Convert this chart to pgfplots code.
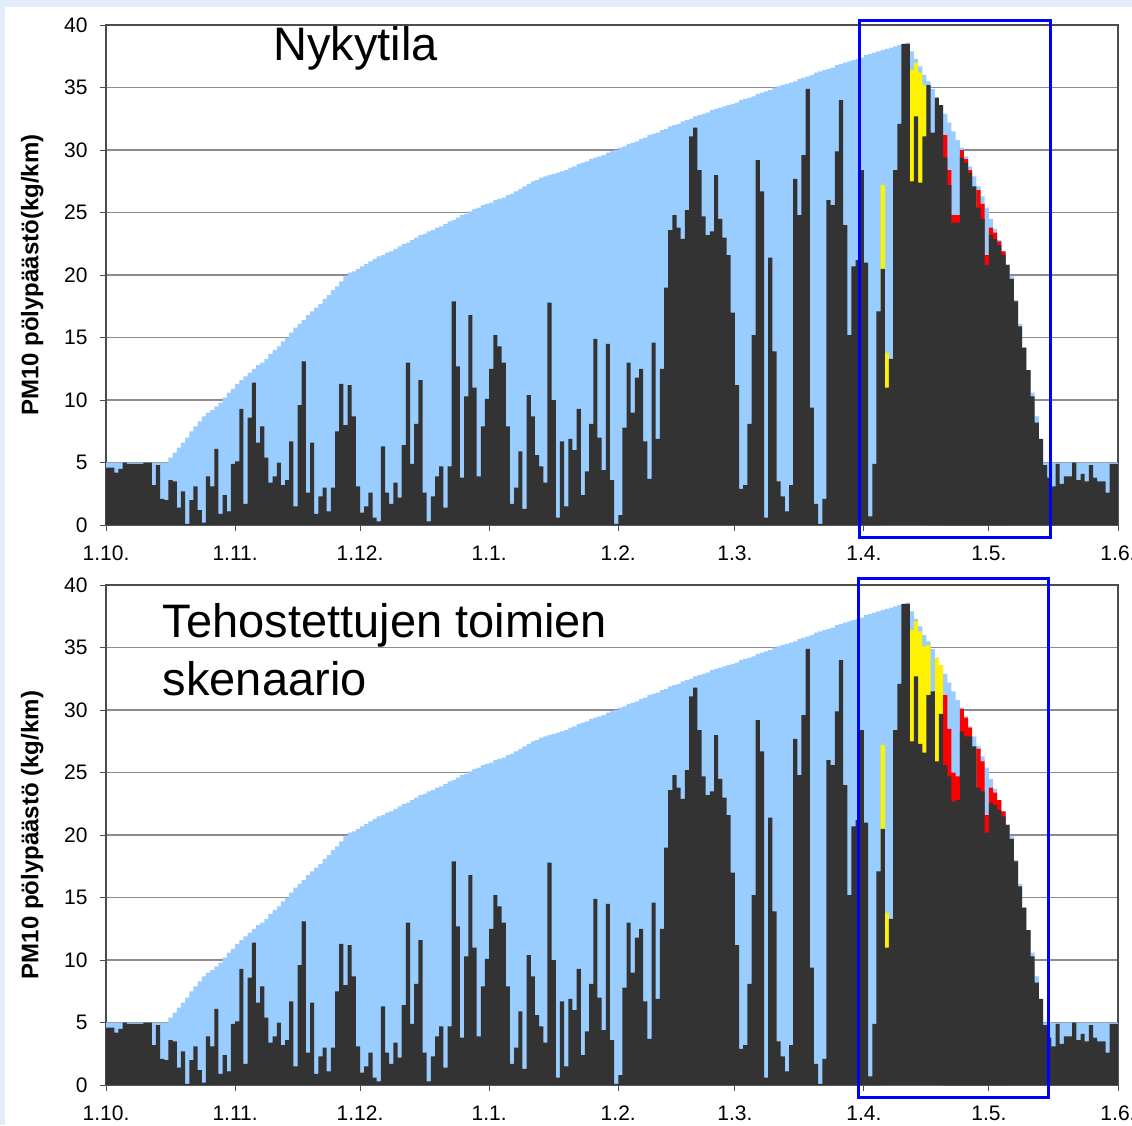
\documentclass[border=0pt]{standalone}
\usepackage{pgfplots}
\pgfplotsset{compat=1.18}
\usepackage{pgfplotstable}
\usepackage{fontspec}
\setmainfont{Liberation Sans}
\definecolor{envblue}{RGB}{153,204,255}
\definecolor{actual}{RGB}{51,51,51}
\definecolor{frameblue}{RGB}{0,0,255}
\definecolor{pagebg}{RGB}{226,237,249}

% day index (0 = 1.10.), potential emission, actual (top panel), actual (bottom panel)
\pgfplotstableread{
d env top bot
0 5.0 4.6 4.6
1 5.0 4.6 4.6
2 5.0 4.2 4.2
3 5.0 4.5 4.5
4 5.0 5.0 5.0
5 5.0 4.9 4.9
6 5.0 4.9 4.9
7 5.0 4.9 4.9
8 5.0 4.9 4.9
9 5.0 5.0 5.0
10 5.0 5.0 5.0
11 5.0 3.2 3.2
12 5.0 4.8 4.8
13 5.0 2.1 2.1
14 5.0 2.0 2.0
15 5.4 3.6 3.6
16 5.8 3.5 3.5
17 6.2 1.4 1.4
18 6.6 2.7 2.7
19 7.0 0.1 0.1
20 7.5 2.0 2.0
21 7.9 3.1 3.1
22 8.3 1.2 1.2
23 8.7 0.2 0.2
24 9.0 3.9 3.9
25 9.2 3.1 3.1
26 9.5 6.1 6.1
27 9.8 0.9 0.9
28 10.2 2.4 2.4
29 10.6 1.1 1.1
30 10.9 4.9 4.9
31 11.3 5.1 5.1
32 11.6 9.3 9.3
33 11.9 1.7 1.7
34 12.2 8.6 8.6
35 12.5 11.4 11.4
36 12.8 6.6 6.6
37 13.0 7.9 7.9
38 13.3 5.4 5.4
39 13.7 3.4 3.4
40 14.0 3.9 3.9
41 14.3 5.0 5.0
42 14.7 3.2 3.2
43 15.0 3.6 3.6
44 15.4 6.7 6.7
45 15.8 1.5 1.5
46 16.1 9.6 9.6
47 16.4 13.1 13.1
48 16.8 2.6 2.6
49 17.1 6.6 6.6
50 17.4 0.9 0.9
51 17.7 2.3 2.3
52 18.1 3.0 3.0
53 18.4 1.1 1.1
54 18.8 3.0 3.0
55 19.1 7.5 7.5
56 19.5 11.3 11.3
57 19.9 8.0 8.0
58 20.2 11.2 11.2
59 20.3 8.7 8.7
60 20.5 3.1 3.1
61 20.7 1.0 1.0
62 20.9 1.5 1.5
63 21.1 2.6 2.6
64 21.3 0.6 0.6
65 21.5 0.3 0.3
66 21.6 6.3 6.3
67 21.8 2.6 2.6
68 21.9 1.7 1.7
69 22.1 3.4 3.4
70 22.3 2.2 2.2
71 22.5 6.4 6.4
72 22.6 13.0 13.0
73 22.8 4.9 4.9
74 23.0 8.1 8.1
75 23.2 11.6 11.6
76 23.3 2.6 2.6
77 23.5 0.3 0.3
78 23.6 2.3 2.3
79 23.8 3.9 3.9
80 23.9 4.7 4.7
81 24.1 1.4 1.4
82 24.3 4.7 4.7
83 24.4 17.9 17.9
84 24.6 12.7 12.7
85 24.8 3.8 3.8
86 24.9 10.3 10.3
87 25.1 16.8 16.8
88 25.3 11.0 11.0
89 25.4 3.9 3.9
90 25.6 7.9 7.9
91 25.7 10.1 10.1
92 25.8 12.5 12.5
93 26.0 15.2 15.2
94 26.1 14.3 14.3
95 26.2 13.0 13.0
96 26.4 7.9 7.9
97 26.5 1.7 1.7
98 26.7 3.0 3.0
99 26.9 5.9 5.9
100 27.1 1.3 1.3
101 27.3 10.4 10.4
102 27.5 8.7 8.7
103 27.6 5.6 5.6
104 27.8 4.7 4.7
105 27.9 3.4 3.4
106 28.0 17.8 17.8
107 28.1 10.0 10.0
108 28.2 0.6 0.6
109 28.3 6.7 6.7
110 28.4 1.5 1.5
111 28.6 6.9 6.9
112 28.7 6.0 6.0
113 28.9 9.3 9.3
114 29.0 2.4 2.4
115 29.1 4.3 4.3
116 29.3 8.1 8.1
117 29.4 14.9 14.9
118 29.5 7.0 7.0
119 29.6 4.4 4.4
120 29.8 14.5 14.5
121 29.9 3.6 3.6
122 30.0 0.1 0.1
123 30.2 0.8 0.8
124 30.3 7.8 7.8
125 30.5 13.0 13.0
126 30.6 9.0 9.0
127 30.7 11.8 11.8
128 30.9 12.5 12.5
129 31.0 6.7 6.7
130 31.2 3.7 3.7
131 31.3 14.6 14.6
132 31.4 6.9 6.9
133 31.6 12.5 12.5
134 31.7 19.0 19.0
135 31.9 23.6 23.6
136 32.0 24.8 24.8
137 32.1 23.8 23.8
138 32.3 22.9 22.9
139 32.4 25.2 25.2
140 32.5 31.1 31.1
141 32.7 31.8 31.8
142 32.8 28.4 28.4
143 32.9 24.7 24.7
144 33.0 23.2 23.2
145 33.2 23.5 23.5
146 33.3 28.0 28.0
147 33.4 24.5 24.5
148 33.5 23.0 23.0
149 33.6 21.6 21.6
150 33.7 17.0 17.0
151 33.8 11.2 11.2
152 34.0 2.9 2.9
153 34.1 3.2 3.2
154 34.2 8.1 8.1
155 34.3 15.2 15.2
156 34.5 29.2 29.2
157 34.6 26.7 26.7
158 34.7 0.6 0.6
159 34.8 21.4 21.4
160 35.0 13.9 13.9
161 35.1 3.5 3.5
162 35.2 2.3 2.3
163 35.3 1.1 1.1
164 35.4 3.2 3.2
165 35.5 27.7 27.7
166 35.7 24.8 24.8
167 35.8 29.6 29.6
168 35.9 34.9 34.9
169 36.0 9.4 9.4
170 36.2 1.7 1.7
171 36.3 0.1 0.1
172 36.4 2.1 2.1
173 36.5 26.0 26.0
174 36.6 25.6 25.6
175 36.8 29.9 29.9
176 36.9 34.0 34.0
177 37.0 24.0 24.0
178 37.1 15.2 15.2
179 37.2 20.7 20.7
180 37.3 21.2 21.2
181 37.4 28.4 28.4
182 37.6 21.0 21.0
183 37.7 0.7 0.7
184 37.8 4.9 4.9
185 37.9 17.1 17.1
186 38.0 20.5 20.5
187 38.1 11.0 11.0
188 38.2 13.3 13.3
189 38.3 28.4 28.4
190 38.4 32.1 32.1
191 38.5 38.5 38.5
192 38.6 38.5 38.5
193 37.9 27.5 27.5
194 37.3 32.7 32.7
195 36.7 27.4 27.3
196 36.0 31.1 26.6
197 35.5 35.2 31.2
198 34.9 31.4 31.5
199 34.2 34.2 25.9
200 33.6 33.6 29.7
201 32.9 29.4 25.6
202 32.2 27.2 24.7
203 31.5 24.2 22.7
204 30.8 24.2 22.8
205 30.2 29.4 28.3
206 29.5 29.0 27.9
207 28.7 28.2 27.9
208 27.9 27.1 27.1
209 27.1 25.4 23.8
210 26.3 24.5 23.5
211 25.4 20.8 20.2
212 24.5 23.2 22.6
213 23.7 22.9 22.4
214 22.8 22.4 22.0
215 21.9 21.6 21.5
216 20.9 20.8 20.8
217 19.9 19.7 19.7
218 18.0 17.9 17.9
219 16.1 15.9 15.9
220 14.2 14.2 14.2
221 12.4 12.4 12.4
222 10.6 10.3 10.3
223 8.7 8.2 8.2
224 6.9 6.9 6.9
225 5.0 4.8 4.8
226 5.0 3.8 3.8
227 5.0 3.1 3.1
228 5.0 4.9 4.9
229 5.0 3.3 3.3
230 5.0 3.9 3.9
231 5.0 3.9 3.9
232 5.0 5.0 5.0
233 5.0 3.6 3.6
234 5.0 4.1 4.1
235 5.0 3.5 3.5
236 5.0 4.8 4.8
237 5.0 3.8 3.8
238 5.0 3.5 3.5
239 5.0 3.5 3.5
240 5.0 2.6 2.6
241 5.0 4.9 4.9
242 5.0 4.9 4.9
243 5.0 4.9 4.9
}\days

\pgfplotsset{
  panel/.style={
    scale only axis, width=1012pt, height=500pt,
    xmin=0, xmax=243, ymin=0, ymax=40,
    ytick={0,5,...,40},
    xtick={0,31,61,92,123,151,182,212,243},
    xticklabels={1.10.,1.11.,1.12.,1.1.,1.2.,1.3.,1.4.,1.5.,1.6.},
    xtick pos=bottom, ytick pos=left,
    tick align=outside, major tick length=6pt,
    tick style={black!70, line width=1pt},
    ymajorgrids, grid style={black!45, line width=1.6pt},
    axis line style={black!70, line width=1.2pt},
    ticklabel style={font=\fontsize{21}{24}\selectfont},
    xticklabel style={yshift=-10pt, text height=16pt, text depth=4pt},
    yticklabel style={xshift=-9pt},
    /pgf/number format/assume math mode=true,
    ylabel style={font=\bfseries\fontsize{24}{28}\selectfont,
      at={(axis description cs:-0.073,0.5)}, anchor=center},
    clip=false,
  },
  steps/.style={const plot mark left, draw=none, mark=none},
}

\begin{document}
\begin{tikzpicture}
\path[use as bounding box] (0,0) rectangle (1132pt,-1125pt);
\fill[pagebg] (0,0) rectangle (1132pt,-1125pt);
\fill[white] (5pt,-7pt) rectangle (1132pt,-1125pt);

% --- top panel: current state
\begin{axis}[panel, at={(106pt,-525pt)}, anchor=south west,
  ylabel={PM10 pölypäästö(kg/km)}]
\addplot[steps, fill=envblue] table[x=d,y=env] {\days} \closedcycle;
\addplot[steps, fill=yellow] coordinates {(186,27.2)(187,13.8)(188,0)(193,36.4)(194,37.0)(195,36.2)(196,35.2)(197,0)} \closedcycle;
\addplot[steps, fill=red] coordinates {(201,31.2)(202,28.4)(203,24.8)(204,24.8)(205,30.0)(206,29.3)(207,28.4)(208,0)(209,26.8)(210,25.7)(211,21.6)(212,23.8)(213,23.4)(214,22.7)(215,21.9)(216,0)} \closedcycle;
\addplot[steps, fill=actual] table[x=d,y=top] {\days} \closedcycle;
\draw[frameblue, line width=3pt] (axis cs:181.0,-0.96) rectangle (axis cs:226.7,40.4);
\node[anchor=base west, font=\fontsize{47}{52}\selectfont, inner sep=0pt] at (axis cs:40.1,37.2) {Nykytila};
\end{axis}

% --- bottom panel: enhanced measures scenario
\begin{axis}[panel, at={(106pt,-1085pt)}, anchor=south west,
  ylabel={PM10 pölypäästö (kg/km)}]
\addplot[steps, fill=envblue] table[x=d,y=env] {\days} \closedcycle;
\addplot[steps, fill=yellow] coordinates {(186,27.2)(187,13.8)(188,0)(193,36.4)(194,37.1)(195,36.3)(196,35.1)(197,35.2)(198,0)(199,34.2)(200,33.6)(201,0)} \closedcycle;
\addplot[steps, fill=red] coordinates {(201,31.2)(202,28.5)(203,25.0)(204,24.7)(205,30.1)(206,29.4)(207,28.6)(208,0)(209,26.9)(210,25.9)(211,21.6)(212,23.8)(213,23.4)(214,22.8)(215,21.9)(216,0)} \closedcycle;
\addplot[steps, fill=actual] table[x=d,y=bot] {\days} \closedcycle;
\draw[frameblue, line width=3pt] (axis cs:180.6,-0.96) rectangle (axis cs:226.2,40.56);
\node[anchor=base west, font=\fontsize{47}{52}\selectfont, inner sep=0pt] at (axis cs:13.6,35.8) {Tehostettujen toimien};
\node[anchor=base west, font=\fontsize{47}{52}\selectfont, inner sep=0pt] at (axis cs:13.6,31.2) {skenaario};
\end{axis}
\end{tikzpicture}
\end{document}
